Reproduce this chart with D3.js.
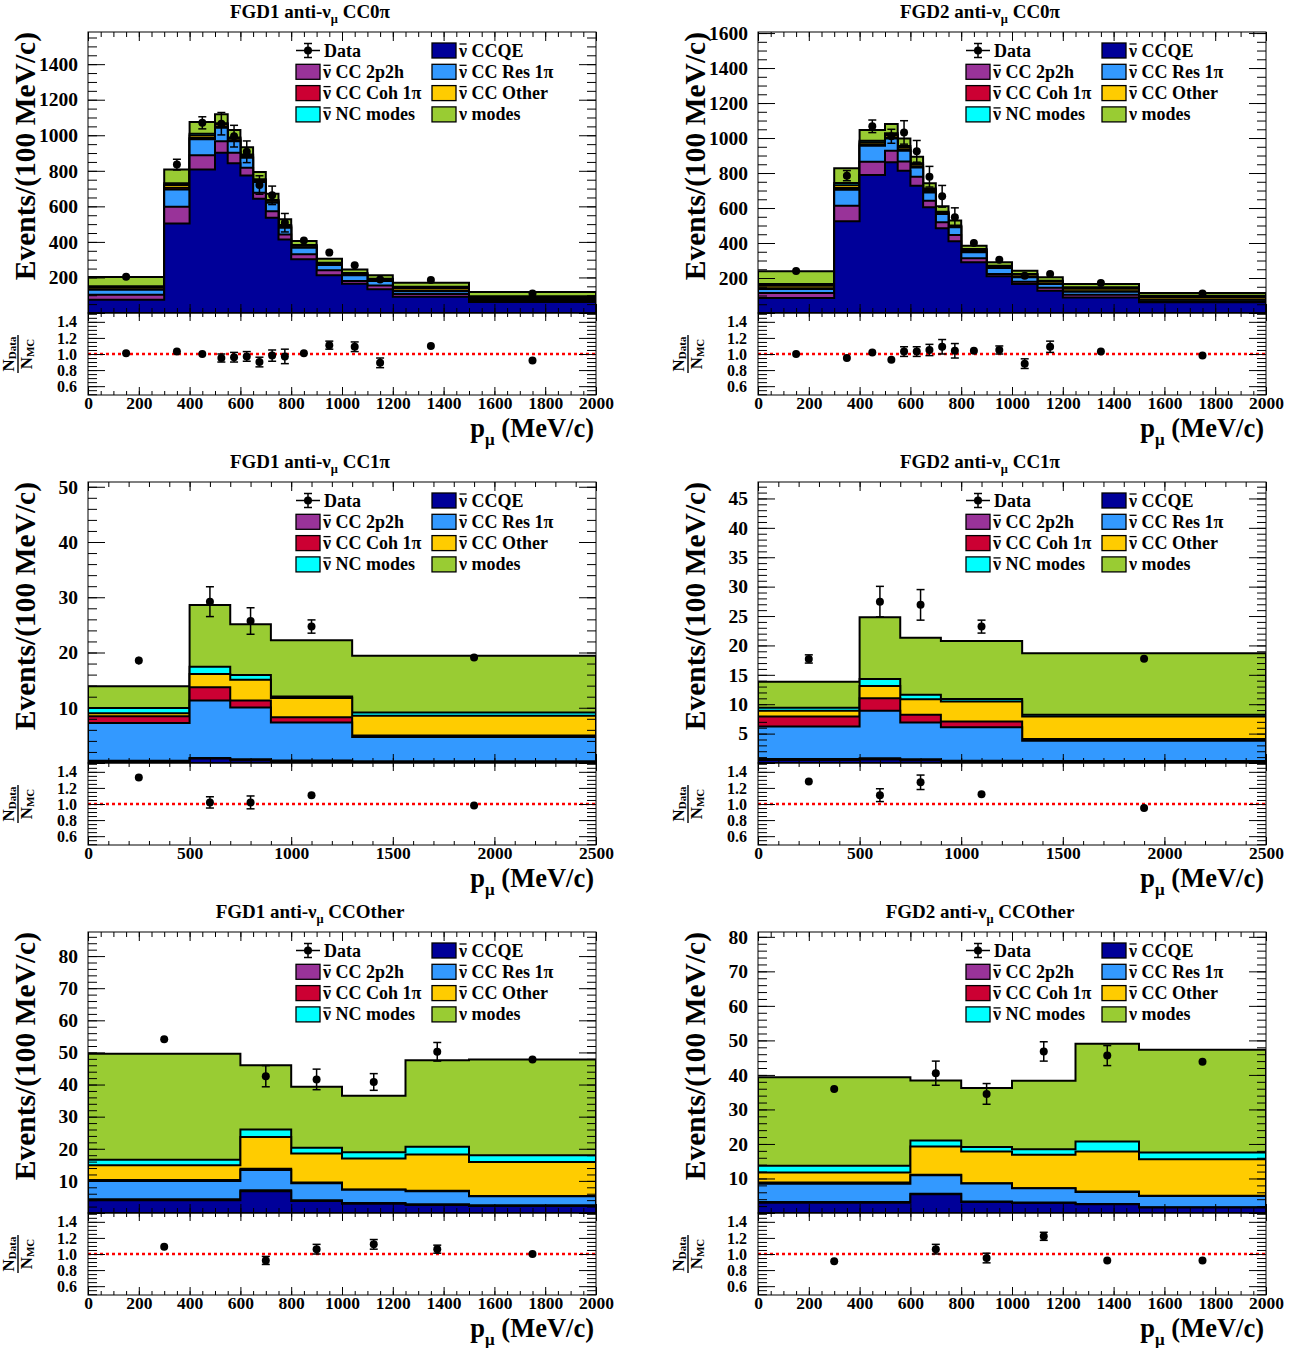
<!DOCTYPE html>
<html>
<head>
<meta charset="utf-8">
<script src="https://cdn.jsdelivr.net/npm/d3@7/dist/d3.min.js"></script>
<style>
html,body{margin:0;padding:0;background:#fff;}
svg{display:block;}
</style>
</head>
<body>
<svg id="chart" width="1303" height="1348"></svg>
<script>
// ---------------- legend / categories ----------------
const componentNames = ["CCQE","CC 2p2h","CC Res 1π","CC Coh 1π","CC Other","NC modes","modes"];
const componentBarred = [true,true,true,true,true,true,false];
const componentColors = ["#000099","#993399","#3399ff","#cc0033","#ffcc00","#00ffff","#99cc33"];

// ---------------- binning ----------------
const cc0piEdges   = [0,300,400,500,550,600,650,700,750,800,900,1000,1100,1200,1500,2000];
const cc0piCenters = [150,350,450,525,575,625,675,725,775,850,950,1050,1150,1350,1750];
const cc1piEdges   = [0,500,700,900,1300,2500];
const cc1piCenters = [250,600,800,1100,1900];
const ccothEdges   = [0,600,800,1000,1250,1500,2000];
const ccothCenters = [300,700,900,1125,1375,1750];

// ---------------- FGD1 CC0pi ----------------
const f1cc0_ccqe  = [75,504,808,902,842,774,643,536,414,302,213,165,133,92,62];
const f1cc0_2p2h  = [28,94,80,65,60,43,34,37,28,28,27,15,22,15,6];
const f1cc0_res   = [28,97,89,75,65,57,60,47,38,37,30,33,25,16,10];
const f1cc0_coh   = [2,10,8,6,5,4,3,3,3,3,2,2,2,3,1];
const f1cc0_other = [12,15,14,12,10,9,8,8,7,8,7,6,6,14,10];
const f1cc0_nc    = [6,10,10,8,6,5,4,5,5,5,4,4,5,8,5];
const f1cc0_nu    = [52,77,65,50,42,41,41,35,32,22,22,20,20,22,24];
const f1cc0_data  = [204,835,1070,1065,995,907,720,662,508,408,340,268,189,186,110];
const f1cc0_err   = [6,30,34,63,61,61,52,52,52,20,18,18,14,8,5];
const f1cc0_ratio = [1.01,1.03,1.0,0.95,0.96,0.97,0.90,0.98,0.97,1.01,1.11,1.09,0.89,1.10,0.92];
const f1cc0_rerr  = [0.01,0.03,0.03,0.05,0.06,0.06,0.06,0.07,0.09,0.04,0.05,0.06,0.06,0.02,0.02];

// ---------------- FGD2 CC0pi ----------------
const f2cc0_ccqe  = [86,524,789,861,813,727,604,484,410,290,210,166,127,89,61];
const f2cc0_2p2h  = [28,89,76,66,53,52,38,34,36,23,13,13,18,16,6];
const f2cc0_res   = [23,92,91,70,61,53,47,48,44,34,34,25,21,17,9];
const f2cc0_coh   = [5,10,8,6,5,4,4,3,3,3,2,2,2,3,1];
const f2cc0_other = [14,15,12,14,12,12,10,6,4,10,7,12,12,14,14];
const f2cc0_nc    = [10,13,9,10,10,8,9,4,3,6,4,5,5,8,8];
const f2cc0_nu    = [72,84,61,53,44,37,29,31,28,19,20,19,19,19,15];
const f2cc0_data  = [240,785,1067,1010,1032,924,779,667,547,400,305,213,223,172,112];
const f2cc0_err   = [6,29,36,40,67,62,59,62,54,20,18,16,16,8,5];
const f2cc0_ratio = [1.0,0.95,1.02,0.93,1.03,1.03,1.05,1.09,1.04,1.04,1.05,0.88,1.09,1.03,0.98];
const f2cc0_rerr  = [0.01,0.03,0.03,0.04,0.06,0.06,0.07,0.09,0.09,0.04,0.05,0.06,0.07,0.02,0.02];

// ---------------- FGD1 CC1pi ----------------
const f1cc1_ccqe  = [0.3,0.8,0.5,0.3,0.2];
const f1cc1_2p2h  = [0.1,0.1,0.2,0.15,0.1];
const f1cc1_res   = [6.85,10.4,9.35,6.9,4.4];
const f1cc1_coh   = [1.2,2.4,1.25,0.95,0.3];
const f1cc1_other = [0.55,2.4,3.75,3.45,3.55];
const f1cc1_nc    = [0.95,1.3,0.9,0.3,0.6];
const f1cc1_nu    = [3.95,11.2,9.15,10.15,10.25];
const f1cc1_data  = [18.55,29.2,25.7,24.7,19.1];
const f1cc1_err   = [0.7,2.7,2.4,1.2,0.3];
const f1cc1_ratio = [1.33,1.02,1.02,1.11,0.98];
const f1cc1_rerr  = [0.04,0.07,0.08,0.04,0.01];

// ---------------- FGD2 CC1pi ----------------
const f2cc1_ccqe  = [0.5,0.6,0.45,0.3,0.25];
const f2cc1_2p2h  = [0.2,0.2,0.2,0.1,0.1];
const f2cc1_res   = [5.5,8.1,6.25,5.7,3.45];
const f2cc1_coh   = [1.7,2.1,1.3,0.95,0.3];
const f2cc1_other = [1.0,2.1,2.65,3.4,3.8];
const f2cc1_nc    = [0.5,1.2,0.75,0.45,0.3];
const f2cc1_nu    = [4.4,10.5,9.7,9.85,10.45];
const f2cc1_data  = [17.7,27.45,26.9,23.2,17.75];
const f2cc1_err   = [0.7,2.6,2.6,1.1,0.3];
const f2cc1_ratio = [1.28,1.11,1.27,1.12,0.95];
const f2cc1_rerr  = [0.04,0.08,0.09,0.04,0.01];

// ---------------- FGD1 CCOther ----------------
const f1oth_ccqe  = [4.0,6.8,3.7,2.9,2.5,2.2];
const f1oth_2p2h  = [0.3,0.3,0.3,0.25,0.2,0.2];
const f1oth_res   = [5.7,6.3,5.3,4.1,4.1,2.8];
const f1oth_coh   = [0.3,0.4,0.2,0.1,0.1,0.1];
const f1oth_other = [4.6,9.9,9.0,9.6,11.3,10.6];
const f1oth_nc    = [1.7,2.3,1.8,2.0,2.4,2.1];
const f1oth_nu    = [33.0,20.0,19.0,17.55,27.0,29.8];
const f1oth_data  = [54.1,42.6,41.6,40.8,50.2,47.8];
const f1oth_err   = [0.8,3.3,3.2,2.6,2.9,1.0];
const f1oth_ratio = [1.09,0.92,1.06,1.12,1.06,1.0];
const f1oth_rerr  = [0.01,0.05,0.06,0.06,0.05,0.01];

// ---------------- FGD2 CCOther ----------------
const f2oth_ccqe  = [3.0,5.4,3.2,2.9,2.5,1.6];
const f2oth_2p2h  = [0.2,0.15,0.15,0.15,0.1,0.1];
const f2oth_res   = [5.3,5.4,5.2,4.1,3.5,3.2];
const f2oth_coh   = [0.35,0.15,0.1,0.05,0.1,0.1];
const f2oth_other = [2.85,8.2,9.15,9.7,11.6,10.6];
const f2oth_nc    = [2.0,1.7,1.3,1.6,2.9,1.9];
const f2oth_nu    = [25.6,17.4,17.1,19.8,28.3,29.8];
const f2oth_data  = [35.9,40.5,34.5,46.8,45.6,43.8];
const f2oth_err   = [0.3,3.5,3.0,2.8,2.9,0.8];
const f2oth_ratio = [0.91,1.06,0.95,1.22,0.92,0.92];
const f2oth_rerr  = [0.01,0.06,0.06,0.05,0.04,0.01];

// ---------------- axis ticks ----------------
const ratioTickLabels = [0.6,0.8,1.0,1.2,1.4];

const panels = [
  {id:"a", det:"FGD1", sel:"CC0π", col:0,row:0, edges:cc0piEdges, centers:cc0piCenters, xmax:2000, xMaj:200, xMin:50, ymax:1581, yMaj:200, yMin:50,
   comps:[f1cc0_ccqe,f1cc0_2p2h,f1cc0_res,f1cc0_coh,f1cc0_other,f1cc0_nc,f1cc0_nu], data:f1cc0_data, err:f1cc0_err, ratio:f1cc0_ratio, rerr:f1cc0_rerr},
  {id:"b", det:"FGD2", sel:"CC0π", col:1,row:0, edges:cc0piEdges, centers:cc0piCenters, xmax:2000, xMaj:200, xMin:50, ymax:1606, yMaj:200, yMin:50,
   comps:[f2cc0_ccqe,f2cc0_2p2h,f2cc0_res,f2cc0_coh,f2cc0_other,f2cc0_nc,f2cc0_nu], data:f2cc0_data, err:f2cc0_err, ratio:f2cc0_ratio, rerr:f2cc0_rerr},
  {id:"c", det:"FGD1", sel:"CC1π", col:0,row:1, edges:cc1piEdges, centers:cc1piCenters, xmax:2500, xMaj:500, xMin:100, ymax:50.86, yMaj:10, yMin:2,
   comps:[f1cc1_ccqe,f1cc1_2p2h,f1cc1_res,f1cc1_coh,f1cc1_other,f1cc1_nc,f1cc1_nu], data:f1cc1_data, err:f1cc1_err, ratio:f1cc1_ratio, rerr:f1cc1_rerr},
  {id:"d", det:"FGD2", sel:"CC1π", col:1,row:1, edges:cc1piEdges, centers:cc1piCenters, xmax:2500, xMaj:500, xMin:100, ymax:47.8, yMaj:5, yMin:1,
   comps:[f2cc1_ccqe,f2cc1_2p2h,f2cc1_res,f2cc1_coh,f2cc1_other,f2cc1_nc,f2cc1_nu], data:f2cc1_data, err:f2cc1_err, ratio:f2cc1_ratio, rerr:f2cc1_rerr},
  {id:"e", det:"FGD1", sel:"CCOther", col:0,row:2, edges:ccothEdges, centers:ccothCenters, xmax:2000, xMaj:200, xMin:50, ymax:87.5, yMaj:10, yMin:2,
   comps:[f1oth_ccqe,f1oth_2p2h,f1oth_res,f1oth_coh,f1oth_other,f1oth_nc,f1oth_nu], data:f1oth_data, err:f1oth_err, ratio:f1oth_ratio, rerr:f1oth_rerr},
  {id:"f", det:"FGD2", sel:"CCOther", col:1,row:2, edges:ccothEdges, centers:ccothCenters, xmax:2000, xMaj:200, xMin:50, ymax:81.4, yMaj:10, yMin:2,
   comps:[f2oth_ccqe,f2oth_2p2h,f2oth_res,f2oth_coh,f2oth_other,f2oth_nc,f2oth_nu], data:f2oth_data, err:f2oth_err, ratio:f2oth_ratio, rerr:f2oth_rerr}
];

const SERIF = '"Liberation Serif","Times New Roman",Times,serif';
const svg = d3.select("#chart")
  .attr("font-family", SERIF).attr("font-weight","bold");

function rangeTicks(lo, hi, step){
  const out=[]; for(let v=lo; v<=hi+1e-9; v+=step) out.push(+v.toFixed(6)); return out;
}
function styleAxis(sel, size){
  sel.select(".domain").remove();
  sel.selectAll("text").attr("font-family",SERIF).attr("font-weight","bold").attr("font-size",size).attr("fill","#000");
  sel.selectAll("line").attr("stroke","#000").attr("stroke-width",1);
}

function drawPanel(p){
  const x0 = 88 + p.col*670, x1 = 596 + p.col*670;
  const top = 32 + p.row*450, mb = 313 + p.row*450, rb = 395 + p.row*450;
  const x  = d3.scaleLinear().domain([0,p.xmax]).range([x0,x1]);
  const y  = d3.scaleLinear().domain([0,p.ymax]).range([mb,top]);
  const yr = d3.scaleLinear().domain([0.49,1.51]).range([rb,mb]);
  const g = svg.append("g");

  const clipId = "clip-"+p.id;
  g.append("clipPath").attr("id",clipId).append("rect")
    .attr("x",x0).attr("y",top).attr("width",x1-x0).attr("height",mb-top);

  // stacked histograms (cumulative, drawn from top layer down)
  const nb = p.edges.length-1;
  const cum = []; let run = new Array(nb).fill(0);
  p.comps.forEach(c => { run = run.map((v,i)=>v+c[i]); cum.push(run.slice()); });
  const area = d3.area().x(d=>x(d[0])).y0(y(0)).y1(d=>y(d[1])).curve(d3.curveStepAfter);
  const hg = g.append("g").attr("clip-path",`url(#${clipId})`);
  for(let k=p.comps.length-1;k>=0;k--){
    const pts = p.edges.map((e,i)=>[e, cum[k][Math.min(i,nb-1)]]);
    hg.append("path").attr("d",area(pts))
      .attr("fill",componentColors[k]).attr("stroke","#000").attr("stroke-width",2)
      .attr("stroke-linejoin","miter");
  }

  // data points with error bars
  const R = 4;
  function points(grp, ys, vals, errs){
    p.centers.forEach((c,i)=>{
      const cx = x(c), cy = ys(vals[i]);
      const ylo = ys(vals[i]-errs[i]), yhi = ys(vals[i]+errs[i]);
      grp.append("line").attr("x1",cx).attr("x2",cx).attr("y1",ylo).attr("y2",yhi)
        .attr("stroke","#000").attr("stroke-width",1.5);
      if (Math.abs(ylo-cy) > R){
        [ylo,yhi].forEach(yy=>grp.append("line").attr("x1",cx-4).attr("x2",cx+4).attr("y1",yy).attr("y2",yy)
          .attr("stroke","#000").attr("stroke-width",1.5));
      }
      grp.append("circle").attr("cx",cx).attr("cy",cy).attr("r",R).attr("fill","#000");
    });
  }
  points(g.append("g"), y, p.data, p.err);

  // ratio reference line
  g.append("line").attr("x1",x0).attr("x2",x1).attr("y1",yr(1)).attr("y2",yr(1))
    .attr("stroke","#ff0000").attr("stroke-width",2.5).attr("stroke-dasharray","3,3");
  points(g.append("g"), yr, p.ratio, p.rerr);

  // frames
  g.append("rect").attr("x",x0).attr("y",top).attr("width",x1-x0).attr("height",mb-top)
    .attr("fill","none").attr("stroke","#000").attr("stroke-width",1);
  g.append("rect").attr("x",x0).attr("y",mb).attr("width",x1-x0).attr("height",rb-mb)
    .attr("fill","none").attr("stroke","#000").attr("stroke-width",1);

  // ----- main axes -----
  const yMajors = rangeTicks(0,p.ymax,p.yMaj), yMinors = rangeTicks(0,p.ymax,p.yMin);
  const xMajors = rangeTicks(0,p.xmax,p.xMaj), xMinors = rangeTicks(0,p.xmax,p.xMin);
  g.append("g").attr("transform",`translate(${x0},0)`)
    .call(d3.axisLeft(y).tickValues(yMajors).tickSize(-17).tickPadding(10).tickFormat(d=>d===0?"":d3.format("d")(d)))
    .call(s=>styleAxis(s,19.5));
  g.append("g").attr("transform",`translate(${x0},0)`)
    .call(d3.axisLeft(y).tickValues(yMinors).tickSize(-9).tickFormat("")).call(s=>styleAxis(s,10));
  g.append("g").attr("transform",`translate(${x1},0)`)
    .call(d3.axisRight(y).tickValues(yMajors).tickSize(-17).tickFormat("")).call(s=>styleAxis(s,10));
  g.append("g").attr("transform",`translate(${x1},0)`)
    .call(d3.axisRight(y).tickValues(yMinors).tickSize(-9).tickFormat("")).call(s=>styleAxis(s,10));
  [[mb,d3.axisBottom],[top,d3.axisTop]].forEach(([yy,ax])=>{
    g.append("g").attr("transform",`translate(0,${yy})`)
      .call(ax(x).tickValues(xMajors).tickSize(-9).tickFormat("")).call(s=>styleAxis(s,10));
    g.append("g").attr("transform",`translate(0,${yy})`)
      .call(ax(x).tickValues(xMinors).tickSize(-5).tickFormat("")).call(s=>styleAxis(s,10));
  });

  // ----- ratio axes -----
  const rMinors = rangeTicks(0.5,1.5,0.05);
  g.append("g").attr("transform",`translate(${x0},0)`)
    .call(d3.axisLeft(yr).tickValues(ratioTickLabels).tickSize(-17).tickPadding(11).tickFormat(d3.format(".1f")))
    .call(s=>styleAxis(s,16));
  g.append("g").attr("transform",`translate(${x0},0)`)
    .call(d3.axisLeft(yr).tickValues(rMinors).tickSize(-9).tickFormat("")).call(s=>styleAxis(s,10));
  g.append("g").attr("transform",`translate(${x1},0)`)
    .call(d3.axisRight(yr).tickValues(ratioTickLabels).tickSize(-17).tickFormat("")).call(s=>styleAxis(s,10));
  g.append("g").attr("transform",`translate(${x1},0)`)
    .call(d3.axisRight(yr).tickValues(rMinors).tickSize(-9).tickFormat("")).call(s=>styleAxis(s,10));
  g.append("g").attr("transform",`translate(0,${rb})`)
    .call(d3.axisBottom(x).tickValues(xMajors).tickSize(-8).tickPadding(2).tickFormat(d3.format("d")))
    .call(s=>styleAxis(s,17.5));
  g.append("g").attr("transform",`translate(0,${rb})`)
    .call(d3.axisBottom(x).tickValues(xMinors).tickSize(-4).tickFormat("")).call(s=>styleAxis(s,10));
  g.append("g").attr("transform",`translate(0,${mb})`)
    .call(d3.axisTop(x).tickValues(xMajors).tickSize(-8).tickFormat("")).call(s=>styleAxis(s,10));
  g.append("g").attr("transform",`translate(0,${mb})`)
    .call(d3.axisTop(x).tickValues(xMinors).tickSize(-4).tickFormat("")).call(s=>styleAxis(s,10));

  // ----- titles -----
  const t = g.append("text").attr("x",x0+222).attr("y",top-14).attr("text-anchor","middle").attr("font-size",19);
  t.append("tspan").text(p.det+" anti-ν");
  t.append("tspan").attr("font-size",12.5).attr("dy",5).text("μ");
  t.append("tspan").attr("dy",-5).text(" "+p.sel);

  g.append("text").attr("transform",`translate(${x0-53},${top}) rotate(-90)`)
    .attr("text-anchor","end").attr("font-size",29.5).text("Events/(100 MeV/c)");

  const xt = g.append("text").attr("x",x1-2).attr("y",rb+42).attr("text-anchor","end").attr("font-size",26.5);
  xt.append("tspan").text("p");
  xt.append("tspan").attr("font-size",17).attr("dy",8).text("μ");
  xt.append("tspan").attr("dy",-8).text(" (MeV/c)");

  const rl = g.append("g").attr("transform",`translate(${x0-70},${(mb+rb)/2}) rotate(-90)`);
  rl.append("line").attr("x1",-19).attr("x2",19).attr("y1",0).attr("y2",0).attr("stroke","#000").attr("stroke-width",1.4);
  const num = rl.append("text").attr("x",0).attr("y",-4).attr("text-anchor","middle").attr("font-size",17);
  num.append("tspan").text("N"); num.append("tspan").attr("font-size",11).attr("dy",2).text("Data");
  const den = rl.append("text").attr("x",0).attr("y",14).attr("text-anchor","middle").attr("font-size",17);
  den.append("tspan").text("N"); den.append("tspan").attr("font-size",11).attr("dy",2).text("MC");

  // ----- legend -----
  const lx = [x0+208, x0+344];
  const rowY = i => top + 18.5 + 21.3*i;
  const FS = 18;
  {
    const cy = rowY(0), bx = lx[0];
    g.append("line").attr("x1",bx).attr("x2",bx+24).attr("y1",cy).attr("y2",cy).attr("stroke","#000").attr("stroke-width",1.5);
    g.append("line").attr("x1",bx+12).attr("x2",bx+12).attr("y1",cy-7).attr("y2",cy+7).attr("stroke","#000").attr("stroke-width",1.5);
    [cy-7,cy+7].forEach(yy=>g.append("line").attr("x1",bx+8).attr("x2",bx+16).attr("y1",yy).attr("y2",yy).attr("stroke","#000").attr("stroke-width",1.5));
    g.append("circle").attr("cx",bx+12).attr("cy",cy).attr("r",4).attr("fill","#000");
    g.append("text").attr("x",bx+28).attr("y",cy+6).attr("font-size",FS).text("Data");
  }
  componentNames.forEach((nm,i)=>{
    const slot=i+1, r=Math.floor(slot/2), c=slot%2;
    const bx=lx[c], cy=rowY(r);
    g.append("rect").attr("x",bx).attr("y",cy-7.5).attr("width",24).attr("height",15)
      .attr("fill",componentColors[i]).attr("stroke","#000").attr("stroke-width",1.3);
    const tx = g.append("text").attr("x",bx+27).attr("y",cy+6).attr("font-size",FS);
    tx.append("tspan").text("ν");
    tx.append("tspan").text(" "+nm);
    if(componentBarred[i]){
      const w = tx.node().getSubStringLength(0,1);
      g.append("line").attr("x1",bx+27.5).attr("x2",bx+27+w-0.5).attr("y1",cy+6-12.5).attr("y2",cy+6-12.5)
        .attr("stroke","#000").attr("stroke-width",1.3);
    }
  });
}

panels.forEach(drawPanel);
</script>
</body>
</html>
